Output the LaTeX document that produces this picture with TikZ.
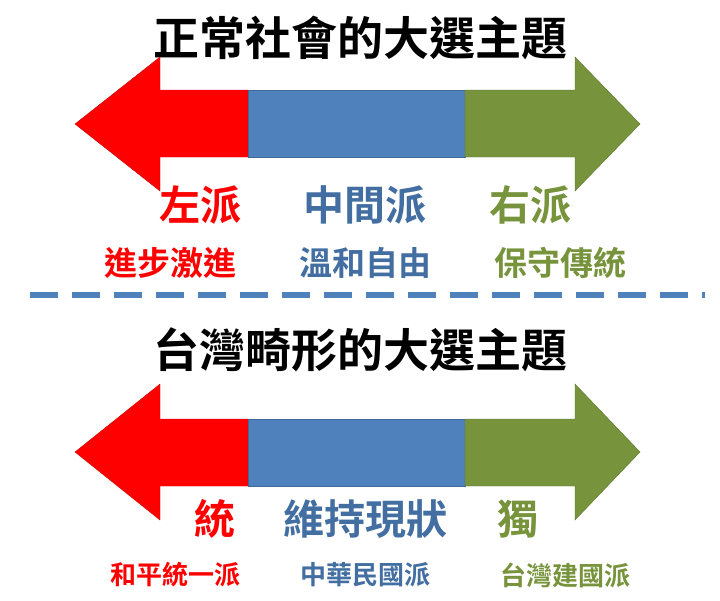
\documentclass[tikz,border=0pt]{standalone}
\usepackage{fontspec}
\setmainfont{Noto Sans CJK TC}[BoldFont={Noto Sans CJK TC Bold}]
\definecolor{cred}{HTML}{FF0000}
\definecolor{cblue}{HTML}{4F81BD}
\definecolor{cgreen}{HTML}{77933C}
\begin{document}
\begin{tikzpicture}[x=1pt,y=-1pt,
  title/.style={font=\fontsize{46}{52}\selectfont\bfseries},
  lab/.style={font=\fontsize{41}{46}\selectfont\bfseries},
  sub/.style={font=\fontsize{33}{38}\selectfont\bfseries},
  sub2/.style={font=\fontsize{26}{30}\selectfont\bfseries}]
\useasboundingbox (0,0) rectangle (720,600);
\node[title] (t1) at (360,38) {正常社會的大選主題};
\fill[cred,draw=cred!80!black] (75,124) -- (160,57) -- (160,90) -- (248,90) -- (248,157) -- (160,157) -- (160,191) -- cycle;
\fill[cblue,draw=cblue!80!black] (248,90) rectangle (465,157);
\fill[cgreen,draw=cgreen!80!black] (465,90) -- (575,90) -- (575,57) -- (640,124) -- (575,191) -- (575,157) -- (465,157) -- cycle;
\node[lab,text=cred] (l1) at (200,205) {左派};
\node[lab,text=cblue!85!black] (m1) at (365,205) {中間派};
\node[lab,text=cgreen] (r1) at (530,205) {右派};
\node[sub,text=cred] (l1s) at (170,263) {進步激進};
\node[sub,text=cblue!85!black] (m1s) at (365,263) {溫和自由};
\node[sub,text=cgreen] (r1s) at (560,263) {保守傳統};
\coordinate (d1) at (30,295); \coordinate (d2) at (705,295);
\draw[cblue,line width=6pt,dash pattern=on 28pt off 14pt] (d1) -- (d2);
\node[title] (t2) at (360,350) {台灣畸形的大選主題};
\fill[cred,draw=cred!80!black] (75,452) -- (160,384) -- (160,419) -- (248,419) -- (248,486) -- (160,486) -- (160,520) -- cycle;
\fill[cblue,draw=cblue!80!black] (248,419) rectangle (465,486);
\fill[cgreen,draw=cgreen!80!black] (465,419) -- (575,419) -- (575,384) -- (640,452) -- (575,520) -- (575,486) -- (465,486) -- cycle;
\node[lab,text=cred] (l2) at (215,519) {統};
\node[lab,text=cblue!85!black] (m2) at (365,519) {維持現狀};
\node[lab,text=cgreen] (r2) at (518,519) {獨};
\node[sub2,text=cred] (l2s) at (175,575) {和平統一派};
\node[sub2,text=cblue!85!black] (m2s) at (365,575) {中華民國派};
\node[sub2,text=cgreen] (r2s) at (565,575) {台灣建國派};
\end{tikzpicture}
\end{document}
